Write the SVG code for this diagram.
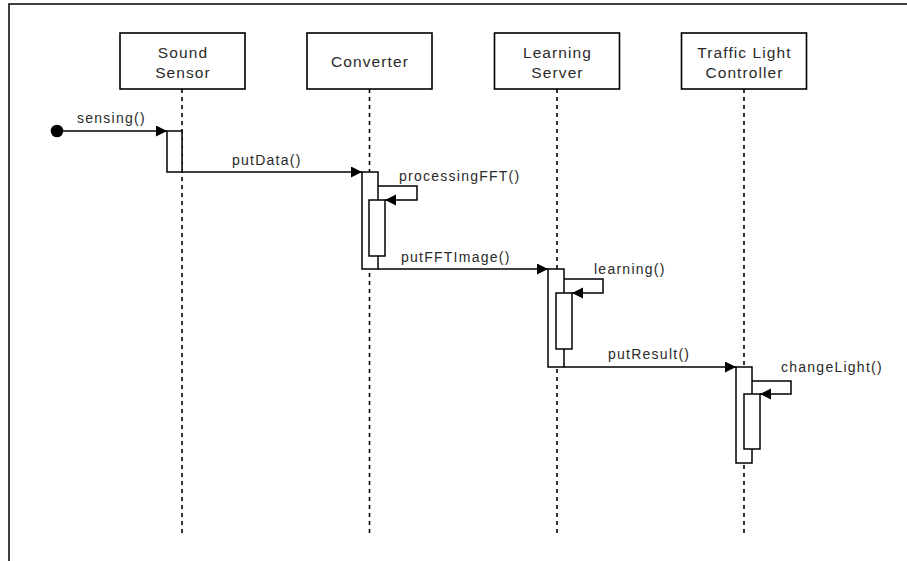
<svg xmlns="http://www.w3.org/2000/svg" width="907" height="561" viewBox="0 0 907 561">
  <style>
    .frame { stroke: #000; stroke-width: 1.5; fill: none; }
    .box { fill: #fff; stroke: #000; stroke-width: 1.6; }
    .life { stroke: #000; stroke-width: 1.6; stroke-dasharray: 4 4; fill: none; }
    .act { fill: #fff; stroke: #000; stroke-width: 1.5; }
    .msg { stroke: #000; stroke-width: 1.5; fill: none; }
    .label { font-family: "Liberation Sans", Arial, sans-serif; font-size: 15.5px; letter-spacing: 1.1px; fill: #2a2a2a; text-anchor: middle; }
    .mtext { font-family: "Liberation Sans", Arial, sans-serif; font-size: 14px; letter-spacing: 1.25px; fill: #2a2a2a; }
  </style>
  <defs>
    <marker id="arrow" markerWidth="12" markerHeight="12" refX="11" refY="5.5" orient="auto" markerUnits="userSpaceOnUse">
      <path d="M0,0 L11,5.5 L0,11 Z" fill="#000"/>
    </marker>
  </defs>

  <rect width="907" height="561" fill="#fff"/>
  <path class="frame" d="M9,561 V4 H907"/>

  <!-- lifelines -->
  <g id="lifelines">
    <line class="life" x1="182" y1="89" x2="182" y2="533"/>
    <line class="life" x1="369.5" y1="89" x2="369.5" y2="533"/>
    <line class="life" x1="557" y1="89" x2="557" y2="533"/>
    <line class="life" x1="744" y1="89" x2="744" y2="533"/>
  </g>

  <!-- participants -->
  <g id="sound-sensor">
    <rect class="box" x="120" y="33" width="125" height="56"/>
    <text class="label" x="183" y="58">Sound</text>
    <text class="label" x="183" y="78">Sensor</text>
  </g>
  <g id="converter">
    <rect class="box" x="307" y="33" width="125" height="56"/>
    <text class="label" x="370" y="67">Converter</text>
  </g>
  <g id="learning-server">
    <rect class="box" x="494.5" y="33" width="125" height="56"/>
    <text class="label" x="557.5" y="58">Learning</text>
    <text class="label" x="557.5" y="78">Server</text>
  </g>
  <g id="traffic-light-controller">
    <rect class="box" x="681.5" y="33" width="125" height="56"/>
    <text class="label" x="744.5" y="58">Traffic Light</text>
    <text class="label" x="744.5" y="78">Controller</text>
  </g>

  <!-- activation bars -->
  <g id="activations">
    <rect class="act" x="167" y="131" width="15" height="41"/>
    <rect class="act" x="362" y="172" width="16" height="97"/>
    <rect class="act" x="369" y="200" width="16" height="56"/>
    <rect class="act" x="548" y="269" width="16" height="98"/>
    <rect class="act" x="556" y="293" width="16" height="56"/>
    <rect class="act" x="736" y="367" width="16" height="96"/>
    <rect class="act" x="744" y="394" width="16" height="55"/>
  </g>

  <!-- messages -->
  <g id="connectors">
    <circle cx="57" cy="131" r="6.3" fill="#000"/>
    <line class="msg" x1="57" y1="131" x2="167" y2="131" marker-end="url(#arrow)"/>
    <line class="msg" x1="182" y1="172" x2="362" y2="172" marker-end="url(#arrow)"/>
    <polyline class="msg" points="378,186 417,186 417,200 385,200" marker-end="url(#arrow)"/>
    <line class="msg" x1="378" y1="269" x2="548" y2="269" marker-end="url(#arrow)"/>
    <polyline class="msg" points="564,279 603,279 603,293 572,293" marker-end="url(#arrow)"/>
    <line class="msg" x1="564" y1="367" x2="736" y2="367" marker-end="url(#arrow)"/>
    <polyline class="msg" points="752,381 791,381 791,394 760,394" marker-end="url(#arrow)"/>
  </g>

  <g id="message-labels">
    <text class="mtext" x="77" y="123">sensing()</text>
    <text class="mtext" x="232" y="165">putData()</text>
    <text class="mtext" x="399" y="181">processingFFT()</text>
    <text class="mtext" x="401" y="262">putFFTImage()</text>
    <text class="mtext" x="594" y="274">learning()</text>
    <text class="mtext" x="608" y="359">putResult()</text>
    <text class="mtext" x="781" y="372">changeLight()</text>
  </g>
</svg>
